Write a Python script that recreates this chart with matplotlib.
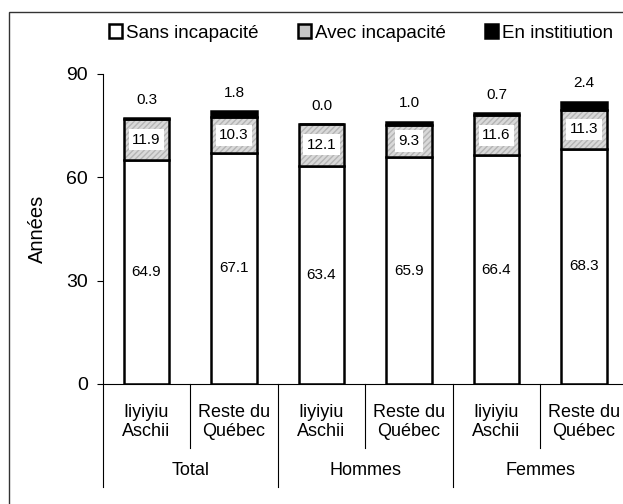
import matplotlib.pyplot as plt
from matplotlib.patches import Patch, Rectangle
import matplotlib.transforms as mtransforms

plt.rcParams['font.family'] = ['Liberation Sans', 'DejaVu Sans']

# data
groups = ['Total', 'Hommes', 'Femmes']
subgroups = ['Iiyiyiu\nAschii', 'Reste du\nQuébec'] * 3
sans = [64.9, 67.1, 63.4, 65.9, 66.4, 68.3]
avec = [11.9, 10.3, 12.1, 9.3, 11.6, 11.3]
inst = [0.3, 1.8, 0.0, 1.0, 0.7, 2.4]
legend_labels = ['Sans incapacité', 'Avec incapacité', 'En institiution']
yticks = [0, 30, 60, 90]

W, H = 623, 504
fig = plt.figure(figsize=(W / 100, H / 100), dpi=100)
ax = fig.add_axes([102.75 / W, 120 / H, 525 / W, 310 / H])

x = list(range(len(sans)))
bw = 0.515
lw = 1.8
gray = '#d9d9d9'
bot2 = [s for s in sans]
bot3 = [s + a for s, a in zip(sans, avec)]

ax.bar(x, sans, bw, color='white', edgecolor='black', linewidth=lw, zorder=2)
ax.bar(x, avec, bw, bottom=bot2, color=gray, edgecolor='#b4b4b4',
       hatch='//////', linewidth=0, zorder=2)
ax.bar(x, avec, bw, bottom=bot2, color='none', edgecolor='black',
       linewidth=lw, zorder=3)
ax.bar(x, inst, bw, bottom=bot3, color='black', edgecolor='black',
       linewidth=lw, zorder=3)

for i in x:
    ax.text(i, sans[i] / 2, f'{sans[i]:.1f}', ha='center', va='center',
            fontsize=11, zorder=4)
    ax.text(i, bot2[i] + avec[i] / 2, f'{avec[i]:.1f}', ha='center',
            va='center', fontsize=11, zorder=4,
            bbox=dict(facecolor='white', edgecolor='none', pad=2.5))
    ax.annotate(f'{inst[i]:.1f}', (i, bot3[i] + inst[i]),
                xytext=(0, 8), textcoords='offset points',
                ha='center', va='bottom', fontsize=11)

ax.set_xlim(-0.5, len(sans) - 0.5)
ax.set_ylim(0, 90)
ax.set_yticks(yticks)
ax.tick_params(axis='y', direction='out', length=4.5, width=0.8,
               labelsize=14, pad=6)
ax.set_xticks([])
for s in ['top', 'right']:
    ax.spines[s].set_visible(False)
ax.spines['left'].set_linewidth(0.8)
ax.spines['bottom'].set_linewidth(0.8)
ax.set_ylabel('Années', fontsize=14.5, labelpad=14)

# category axis
trans = mtransforms.blended_transform_factory(ax.transData, ax.transAxes)
for i, lab in enumerate(subgroups):
    ax.text(i, -0.123, lab, transform=trans, ha='center', va='center',
            fontsize=13, linespacing=1.15)
for k, g in enumerate(groups):
    ax.text(2 * k + 0.5, -0.28, g, transform=trans, ha='center',
            va='center', fontsize=13)
for k in range(len(sans) + 1):
    xs = k - 0.5
    ybot = -0.332 if k % 2 == 0 else -0.206
    ax.plot([xs, xs], [0, ybot], transform=trans, color='black',
            lw=0.8, clip_on=False)

# legend
handles = [
    Patch(facecolor='white', edgecolor='black', linewidth=1.8),
    Patch(facecolor='#c4c4c4', edgecolor='black', linewidth=1.8),
    Patch(facecolor='black', edgecolor='black', linewidth=1.8),
]
fig.legend(handles, legend_labels, loc='center', bbox_to_anchor=(361 / W, 1 - 33 / H),
           ncol=3, frameon=False, fontsize=13.5, handlelength=0.7,
           handleheight=0.7, handletextpad=0.2, columnspacing=2.1)

# outer frame
fig.patches.append(Rectangle((9 / W, -0.1), 1.2, 1 - 12 / H + 0.1,
                             transform=fig.transFigure, fill=False,
                             edgecolor='#333333', linewidth=1.0))

fig.savefig('out.png', dpi=100)
